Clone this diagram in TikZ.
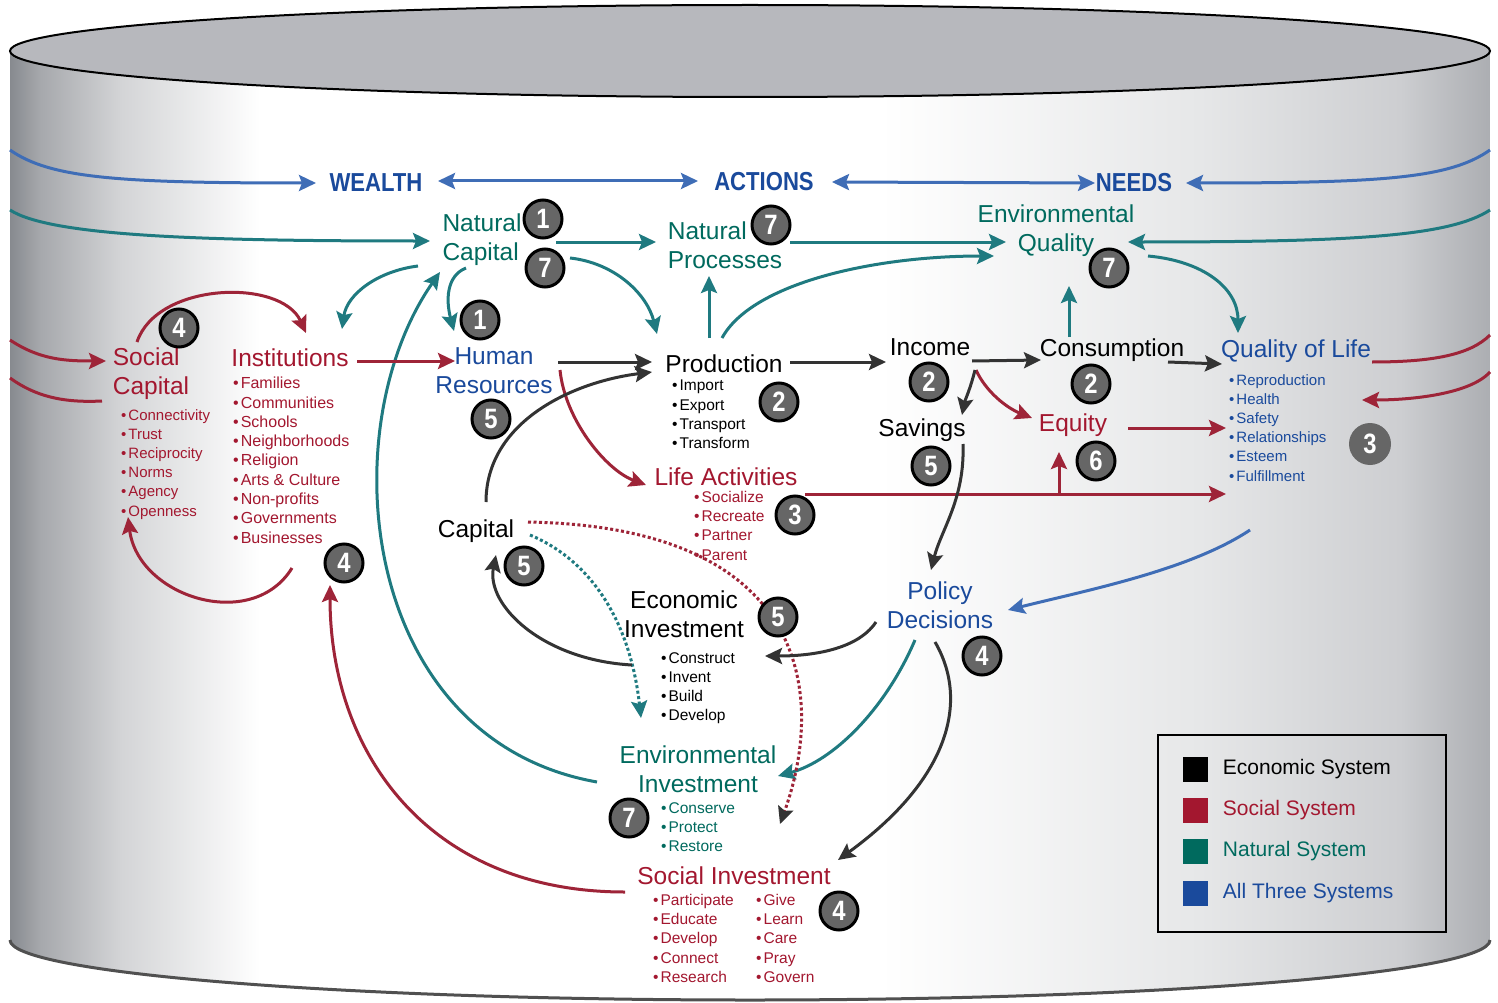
\documentclass[tikz,border=0pt]{standalone}
\usepackage{fontspec}
\setmainfont{Liberation Sans}
\newfontfamily\headfont{Liberation Sans}[FakeStretch=0.85]
\usetikzlibrary{arrows.meta,calc,positioning}

\definecolor{socred}{HTML}{A3172F}
\definecolor{socline}{HTML}{9E2438}
\definecolor{nattext}{HTML}{006A5E}
\definecolor{natline}{HTML}{1F7A80}
\definecolor{alltext}{HTML}{1A4A9C}
\definecolor{allline}{HTML}{3F6DB6}
\definecolor{ecoline}{HTML}{333333}
\definecolor{badgegray}{HTML}{666666}
\definecolor{topgray}{HTML}{B7B8BD}
\definecolor{rimgray}{HTML}{505050}
\definecolor{cylL}{HTML}{878A8F}
\definecolor{cylA}{HTML}{A6A8AC}
\definecolor{cylB}{HTML}{D3D4D6}
\definecolor{cylC}{HTML}{E6E7E8}
\definecolor{cylD}{HTML}{CDCED1}
\definecolor{cylR}{HTML}{ACAEB2}

\newcommand{\itm}{\textbullet\hspace{2pt}}

\begin{document}
\begin{tikzpicture}[x=1pt,y=-1pt,>={Stealth[length=17pt,width=16pt,inset=3pt]},
  lbl/.style={font=\fontsize{24.5}{29}\selectfont,inner sep=1pt},
  head/.style={font=\headfont\bfseries\fontsize{26}{30}\selectfont,text=alltext,inner sep=1pt},
  items/.style={font=\fontsize{15.5}{19.2}\selectfont,align=left,anchor=north west,inner sep=0pt},
  badge/.style={circle,fill=badgegray,draw=black,line width=3pt,minimum size=38pt,inner sep=0pt,text=white,font=\headfont\bfseries\fontsize{28}{28}\selectfont},
  ecoarr/.style={draw=ecoline,line width=3pt,->},
  socarr/.style={draw=socline,line width=3pt,->},
  natarr/.style={draw=natline,line width=3pt,->},
  allarr/.style={draw=allline,line width=3pt,->},
  dotty/.style={dash pattern=on 3pt off 2.5pt},
  keybox/.style={minimum size=25pt,inner sep=0pt},
  keytext/.style={font=\fontsize{21}{24}\selectfont,inner sep=0pt,anchor=west}]

\useasboundingbox (0,0) rectangle (1498,1003);

% the drum
\begin{scope}
\clip (10,51) -- (10,940) .. controls (10,973) and (341,1000) .. (750,1000) .. controls (1159,1000) and (1490,973) .. (1490,940) -- (1490,51) -- cycle;
\fill[white] (0,0) rectangle (1498,1003);
\fill[left color=cylL,right color=cylA] (10,0) rectangle (40,1003);
\fill[left color=cylA,right color=cylB] (40,0) rectangle (120,1003);
\fill[left color=cylB,right color=white] (120,0) rectangle (260,1003);
\fill[left color=white,right color=cylC] (880,0) rectangle (1200,1003);
\fill[left color=cylC,right color=cylD] (1200,0) rectangle (1400,1003);
\fill[left color=cylD,right color=cylR] (1400,0) rectangle (1490,1003);
\end{scope}
\draw[rimgray,line width=3pt] (10,940) .. controls (10,973) and (341,1000) .. (750,1000) .. controls (1159,1000) and (1490,973) .. (1490,940);
\draw[line width=2pt,fill=topgray] (750,51) ellipse [x radius=740,y radius=46];

\coordinate (rimWL) at (10,150);
\coordinate (rimWR) at (1490,150);
\coordinate (rimNL) at (10,210);
\coordinate (rimNR) at (1490,210);
\coordinate (rimSL) at (10,340);
\coordinate (rimSL2) at (10,378);
\coordinate (rimSR) at (1490,335);
\coordinate (rimSR2) at (1490,372);

\node[head] (wealth) at (376,183) {WEALTH};
\node[head] (actions) at (764,182) {ACTIONS};
\node[head] (needs) at (1134,183) {NEEDS};

\node[lbl,text=nattext,align=left] (natcap) at (482,240) {Natural\\Capital};
\node[lbl,text=nattext,align=left] (natproc) at (725,245) {Natural\\Processes};
\node[lbl,text=nattext,align=center] (envq) at (1056,231) {Environmental\\Quality};

\node[lbl,text=socred,align=left] (socap) at (151,374) {Social\\Capital};
\node[items,text=socred,font=\fontsize{15}{19.2}\selectfont] (socap-list) at (121,409) {\itm Connectivity\\\itm Trust\\\itm Reciprocity\\\itm Norms\\\itm Agency\\\itm Openness};
\node[lbl,text=socred] (inst) at (290,358) {Institutions};
\node[items,text=socred,font=\fontsize{16}{19.3}\selectfont] (inst-list) at (233,377) {\itm Families\\\itm Communities\\\itm Schools\\\itm Neighborhoods\\\itm Religion\\\itm Arts \& Culture\\\itm Non-profits\\\itm Governments\\\itm Businesses};

\node[lbl,text=alltext,align=center] (hr) at (494,371) {Human\\Resources};
\node[lbl] (prod) at (724,364) {Production};
\node[items] (prod-list) at (672,380) {\itm Import\\\itm Export\\\itm Transport\\\itm Transform};
\node[lbl] (income) at (930,347) {Income};
\node[lbl] (cons) at (1112,350) {Consumption};
\node[lbl,text=alltext] (qol) at (1296,351) {Quality of Life};
\node[items,text=alltext,font=\fontsize{15}{19.2}\selectfont] (qol-list) at (1229,374) {\itm Reproduction\\\itm Health\\\itm Safety\\\itm Relationships\\\itm Esteem\\\itm Fulfillment};
\node[lbl] (savings) at (922,430) {Savings};
\node[lbl,text=socred] (equity) at (1073,425) {Equity};
\node[lbl,text=socred] (lifeact) at (726,477) {Life Activities};
\node[items,text=socred] (lifeact-list) at (694,491) {\itm Socialize\\\itm Recreate\\\itm Partner\\\itm Parent};

\node[lbl] (capital) at (476,531) {Capital};
\node[lbl,align=center] (ecoinv) at (684,614) {Economic\\Investment};
\node[items] (ecoinv-list) at (661,652) {\itm Construct\\\itm Invent\\\itm Build\\\itm Develop};
\node[lbl,text=alltext,align=center] (policy) at (940,605) {Policy\\Decisions};
\node[lbl,text=nattext,align=center] (envinv) at (698,769) {Environmental\\Investment};
\node[items,text=nattext] (envinv-list) at (661,802) {\itm Conserve\\\itm Protect\\\itm Restore};
\node[lbl,text=socred] (socinv) at (734,876) {Social\;Investment};
\node[items,text=socred] (socinv-list) at (653,894) {\itm Participate\\\itm Educate\\\itm Develop\\\itm Connect\\\itm Research};
\node[items,text=socred] (socinv-list2) at (756,894) {\itm Give\\\itm Learn\\\itm Care\\\itm Pray\\\itm Govern};

% header row
\draw[allarr] (rimWL) .. controls +(40,28) and +(-200,0) .. ($(wealth)+(-60,0)$);
\draw[allarr,<->] ($(wealth)+(62,-2)$) -- ($(actions)+(-66,-1)$);
\draw[allarr,<->] ($(actions)+(68,0)$) -- ($(needs)+(-39,0)$);
\draw[allarr] (rimWR) .. controls +(-40,28) and +(200,0) .. ($(needs)+(52,0)$);

% natural system
\draw[natarr] (rimNL) .. controls +(40,26) and +(-230,0) .. ($(natcap)+(-52,1)$);
\draw[natarr] ($(natcap)+(74,2)$) -- ($(natproc)+(-69,-3)$);
\draw[natarr] ($(natproc)+(65,-3)$) -- ($(envq)+(-50,11)$);
\draw[natarr] (rimNR) .. controls +(-40,26) and +(230,0) .. ($(envq)+(72,11)$);
\draw[natarr] ($(prod)+(-15,-26)$) -- ($(natproc)+(-16,31)$);
\draw[natarr] ($(prod)+(-2,-26)$) .. controls +(30,-55) and +(-120,0) .. ($(envq)+(-62,25)$);
\draw[natarr] ($(cons)+(-43,-13)$) -- ($(envq)+(13,55)$);
\draw[natarr] ($(envq)+(92,25)$) .. controls +(55,5) and +(0,-45) .. ($(qol)+(-58,-18)$);
\draw[natarr] ($(natcap)+(88,18)$) .. controls +(45,5) and +(-10,-40) .. ($(prod)+(-67,-30)$);
\draw[natarr] ($(natcap)+(-64,26)$) .. controls +(-40,5) and +(5,-35) .. ($(inst)+(52,-29)$);
\draw[natarr] ($(natcap)+(-16,28)$) .. controls +(-20,8) and +(-8,-30) .. ($(hr)+(-40,-40)$);
\draw[natarr] ($(envinv)+(-101,13)$) .. controls +(-237,-42) and +(-110,158) .. ($(natcap)+(-42,32)$);
\draw[natarr,dotty] ($(capital)+(54,4)$) .. controls +(60,25) and +(-11,-98) .. ($(ecoinv)+(-43,104)$);
\draw[natarr] ($(policy)+(-25,35)$) .. controls +(-30,70) and +(55,-15) .. ($(envinv)+(80,7)$);

% social system
\draw[socarr] (rimSL) .. controls +(30,20) and +(-40,0) .. ($(socap)+(-45,-13)$);
\draw[socline,line width=3pt] ($(socap)+(-49,27)$) .. controls +(-40,2) and +(25,18) .. (rimSL2);
\draw[socarr] ($(socap)+(-14,-32)$) .. controls +(20,-60) and +(-25,-55) .. ($(inst)+(16,-25)$);
\draw[socarr] ($(inst)+(2,210)$) .. controls +(-40,65) and +(10,80) .. ($(socap)+(-23,143)$);
\draw[socarr] ($(inst)+(67,3)$) -- ($(hr)+(-39,-10)$);
\draw[socarr] ($(hr)+(66,-1)$) .. controls +(5,50) and +(-40,-15) .. ($(lifeact)+(-80,8)$);
\draw[socarr] ($(income)+(46,23)$) .. controls +(10,22) and +(-25,-10) .. ($(equity)+(-41,-7)$);
\draw[socarr] ($(equity)+(55,3)$) -- ($(qol)+(-70,77)$);
\draw[socarr] ($(lifeact)+(79,17)$) -- ($(qol)+(-70,143)$);
\draw[socarr] ($(lifeact)+(333,17)$) -- ($(equity)+(-14,27)$);
\draw[socline,line width=3pt] ($(qol)+(76,11)$) .. controls +(60,0) and +(-20,20) .. (rimSR);
\draw[socarr] (rimSR2) .. controls +(-20,22) and +(50,0) .. ($(qol)+(66,49)$);
\draw[socarr] ($(socinv)+(-109,16)$) .. controls +(-195,0) and +(0,170) .. ($(inst)+(40,227)$);
\draw[socline,line width=3pt,dotty,-{Stealth[length=17pt,width=16pt,inset=3pt,color=ecoline]}] ($(capital)+(52,-9)$) .. controls +(285,5) and +(45,-125) .. ($(socinv)+(46,-52)$);

% economic system
\draw[ecoarr] ($(hr)+(64,-9)$) -- ($(prod)+(-72,-2)$);
\draw[ecoarr] ($(capital)+(10,-29)$) .. controls +(0,-80) and +(-80,10) .. ($(prod)+(-72,8)$);
\draw[ecoarr] ($(prod)+(66,-2)$) -- ($(income)+(-44,15)$);
\draw[ecoarr] ($(income)+(42,14)$) -- ($(cons)+(-71,10)$);
\draw[ecoarr] ($(cons)+(56,12)$) -- ($(qol)+(-74,13)$);
\draw[ecoarr] ($(income)+(45,23)$) .. controls +(-5,20) and +(3,-15) .. ($(savings)+(40,-15)$);
\draw[ecoarr] ($(savings)+(41,14)$) .. controls +(2,55) and +(10,-40) .. ($(policy)+(-9,-35)$);
\draw[ecoarr] ($(policy)+(-64,17)$) .. controls +(-20,30) and +(40,0) .. ($(ecoinv)+(81,42)$);
\draw[ecoarr] ($(ecoinv)+(-52,51)$) .. controls +(-90,-5) and +(-10,50) .. ($(capital)+(20,24)$);
\draw[ecoarr] ($(policy)+(-5,37)$) .. controls +(35,60) and +(110,-80) .. ($(socinv)+(104,-16)$);

% all three systems
\draw[allarr] ($(qol)+(-46,179)$) .. controls +(-60,40) and +(80,-20) .. ($(policy)+(68,5)$);

\node[badge] (b1a) at (543,219) {1};
\node[badge] (b7a) at (545,268) {7};
\node[badge] (b7b) at (771,225) {7};
\node[badge] (b7c) at (1109,268) {7};
\node[badge] (b4a) at (179,328) {4};
\node[badge] (b1b) at (480,320) {1};
\node[badge] (b5a) at (491,419) {5};
\node[badge] (b2a) at (779,402) {2};
\node[badge] (b2b) at (929,382) {2};
\node[badge] (b2c) at (1091,384) {2};
\node[badge] (b5b) at (931,466) {5};
\node[badge] (b6) at (1096,461) {6};
\node[badge] (b3a) at (795,515) {3};
\node[badge,draw=none,minimum size=42pt] (b3b) at (1370,444) {3};
\node[badge] (b4b) at (344,563) {4};
\node[badge] (b5c) at (524,566) {5};
\node[badge] (b5d) at (778,617) {5};
\node[badge] (b4c) at (982,656) {4};
\node[badge] (b7d) at (629,818) {7};
\node[badge] (b4d) at (839,911) {4};

% key
\node[draw,line width=2pt,minimum width=288pt,minimum height=197pt] (legend) at (1302,833) {};
\node[keybox,fill=black] (keyeco) at (1195,769) {};
\node[keybox,fill=socred] (keysoc) at (1195,810) {};
\node[keybox,fill=nattext] (keynat) at (1195,851) {};
\node[keybox,fill=alltext] (keyall) at (1195,893) {};
\node[keytext,right=15pt of keyeco] (txteco) {Economic System};
\node[keytext,right=15pt of keysoc,text=socred] (txtsoc) {Social System};
\node[keytext,right=15pt of keynat,text=nattext] (txtnat) {Natural System};
\node[keytext,right=15pt of keyall,text=alltext] (txtall) {All Three Systems};

\end{tikzpicture}
\end{document}
